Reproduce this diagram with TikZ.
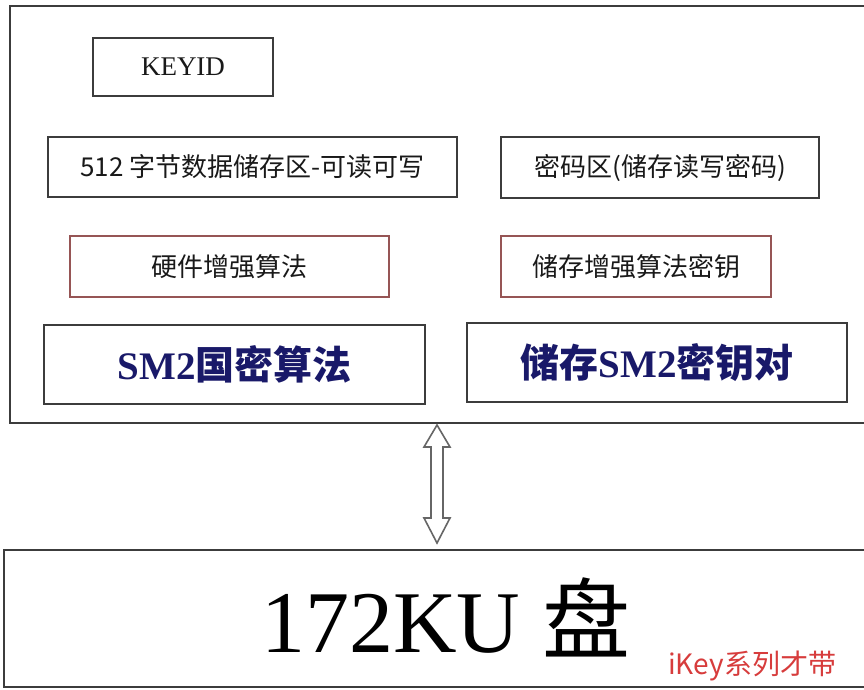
\documentclass[tikz,border=0pt]{standalone}
\usepackage{fontspec}
\setmainfont{Liberation Serif}
\newfontfamily\cjk{Noto Sans CJK SC}
\definecolor{linegray}{RGB}{60,60,60}
\definecolor{redline}{RGB}{150,85,85}
\definecolor{navytext}{RGB}{25,25,105}
\definecolor{notered}{RGB}{215,60,60}
\definecolor{textgray}{RGB}{25,25,25}
\begin{document}
\begin{tikzpicture}[x=1pt,y=-1pt,
  frame/.style={draw=linegray,line width=2pt,inner sep=0pt,anchor=north west},
  box/.style={draw=linegray,line width=1.8pt,inner sep=0pt,text=textgray,
    font=\cjk\fontsize{26}{26}\selectfont},
  redbox/.style={box,draw=redline},
  bigbox/.style={box,text=navytext,font=\cjk\bfseries\fontsize{39}{39}\selectfont},
  arrowshape/.style={draw=gray!80!black,line width=1.6pt,fill=white,line join=miter}]
\useasboundingbox (0,0) rectangle (864,690);
\fill[white] (0,0) rectangle (864,690);
\begin{scope}
\clip (0,0) rectangle (864,690);
\node[frame,minimum width=880pt,minimum height=417pt] (upper) at (9,5) {};
\node[frame,minimum width=880pt,minimum height=137pt] (lower) at (3,549) {};
\end{scope}
\node[box,minimum width=180pt,minimum height=58pt,font=\fontsize{27}{27}\selectfont] (keyid) at (183,67) {KEYID};
\node[box,minimum width=409pt,minimum height=60pt] (mem) at (252.5,167) {512 字节数据储存区-可读可写};
\node[box,minimum width=318pt,minimum height=61pt] (pwd) at (660,167.5) {密码区(储存读写密码)};
\node[redbox,minimum width=319pt,minimum height=61pt] (hw) at (229.5,266.5) {硬件增强算法};
\node[redbox,minimum width=270pt,minimum height=61pt] (keystore) at (636,266.5) {储存增强算法密钥};
\node[bigbox,minimum width=381pt,minimum height=79pt] (sm2) at (234.5,364.5) {{\rmfamily\bfseries SM2}国密算法};
\node[bigbox,minimum width=380pt,minimum height=79pt] (sm2key) at (657,362.5) {储存{\rmfamily\bfseries SM2}密钥对};
\coordinate (atop) at (437,425);
\coordinate (abot) at (437,543);
\draw[arrowshape] (atop) -- ++(13,22) -- ++(-7,0) -- ++(0,71) -- ++(7,0) -- (abot)
  -- ++(-13,-25) -- ++(7,0) -- ++(0,-71) -- ++(-7,0) -- cycle;
\node[anchor=base,inner sep=0pt,font=\fontsize{88}{88}\selectfont] (title) at (446,652) {172KU {\cjk 盘}};
\node[anchor=base west,inner sep=0pt,text=notered,font=\cjk\fontsize{28}{28}\selectfont] (ikey) at (668,674) {iKey系列才带};
\end{tikzpicture}
\end{document}
